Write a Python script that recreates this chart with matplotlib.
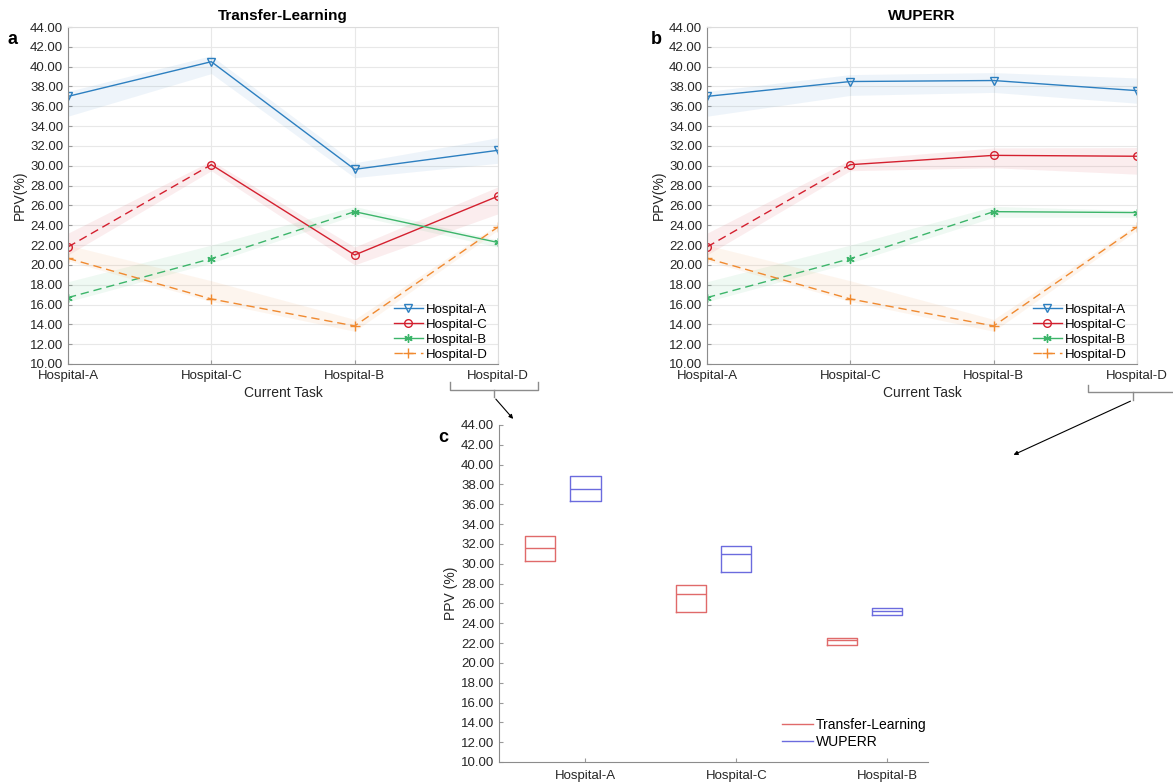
import matplotlib
matplotlib.use("Agg")
import matplotlib.pyplot as plt
from matplotlib.lines import Line2D
from matplotlib.patches import FancyArrowPatch

plt.rcParams["font.family"] = ["Liberation Sans", "DejaVu Sans"]
plt.rcParams["font.size"] = 9

# tasks in training order
tasks = ["Hospital-A", "Hospital-C", "Hospital-B", "Hospital-D"]
hospitals = ["Hospital-A", "Hospital-C", "Hospital-B", "Hospital-D"]

# Transfer-Learning: PPV of each hospital after each task (mean, band low, band high)
tl_mean = {
    "Hospital-A": [37.0, 40.5, 29.64, 31.56],
    "Hospital-C": [21.81, 30.11, 21.0, 26.93],
    "Hospital-B": [16.7, 20.63, 25.37, 22.26],
    "Hospital-D": [20.66, 16.56, 13.84, 23.82],
}
tl_low = {
    "Hospital-A": [35.0, 39.3, 28.8, 30.25],
    "Hospital-C": [21.0, 29.5, 20.0, 25.15],
    "Hospital-B": [16.3, 20.2, 25.0, 21.79],
    "Hospital-D": [20.4, 16.3, 13.3, 23.5],
}
tl_high = {
    "Hospital-A": [37.5, 41.1, 30.3, 32.83],
    "Hospital-C": [23.2, 30.5, 21.8, 27.87],
    "Hospital-B": [18.3, 22.0, 25.9, 22.5],
    "Hospital-D": [22.0, 18.4, 14.5, 24.1],
}

# WUPERR
wu_mean = {
    "Hospital-A": [37.0, 38.5, 38.6, 37.58],
    "Hospital-C": [21.81, 30.11, 31.05, 30.96],
    "Hospital-B": [16.7, 20.63, 25.37, 25.28],
    "Hospital-D": [20.66, 16.56, 13.84, 23.82],
}
wu_low = {
    "Hospital-A": [35.0, 37.1, 37.4, 36.31],
    "Hospital-C": [21.0, 29.5, 29.8, 29.15],
    "Hospital-B": [16.3, 20.2, 24.8, 24.81],
    "Hospital-D": [20.4, 16.3, 13.3, 23.5],
}
wu_high = {
    "Hospital-A": [37.5, 39.2, 39.4, 38.86],
    "Hospital-C": [23.2, 30.6, 31.8, 31.84],
    "Hospital-B": [18.3, 22.0, 25.9, 25.49],
    "Hospital-D": [22.0, 18.4, 14.5, 24.1],
}

# final-task box stats (q1, median, q3)
box_groups = ["Hospital-A", "Hospital-C", "Hospital-B"]
tl_q1 = [30.25, 25.15, 21.79]
tl_med = [31.56, 26.93, 22.26]
tl_q3 = [32.83, 27.87, 22.5]
wu_q1 = [36.31, 29.15, 24.81]
wu_med = [37.58, 30.96, 25.28]
wu_q3 = [38.86, 31.84, 25.49]

colors = {
    "Hospital-A": "#2c7fc0",
    "Hospital-C": "#d4202f",
    "Hospital-B": "#3cb56a",
    "Hospital-D": "#f08a30",
}
markers = {
    "Hospital-A": dict(marker="v", ms=5.5, mfc="none"),
    "Hospital-C": dict(marker="o", ms=5.5, mfc="none"),
    "Hospital-B": dict(marker=(6, 2, 0), ms=6),
    "Hospital-D": dict(marker="+", ms=7),
}
DASH = (6, 3.5)
W, H = 1173, 784


def axes_px(fig, x0, x1, y0, y1):
    return fig.add_axes([x0 / W, 1 - y1 / H, (x1 - x0) / W, (y1 - y0) / H])


def style_axis(ax):
    ax.set_ylim(10, 44)
    ax.set_yticks(range(10, 45, 2))
    ax.set_yticklabels([f"{v:.2f}" for v in range(10, 45, 2)])
    ax.tick_params(direction="in", length=3, colors="#9a9a9a", labelcolor="#262626", labelsize=9.5)


def draw_curves(ax, title, mean, low, high):
    x = list(range(len(tasks)))
    handles = []
    for k, h in enumerate(hospitals):
        c = colors[h]
        ax.fill_between(x, low[h], high[h], color=c, alpha=0.08, lw=0)
        if k > 0:
            ax.plot(x[:k + 1], mean[h][:k + 1], color=c, lw=1, dashes=DASH)
        ax.plot(x[k:], mean[h][k:], color=c, lw=1)
        ax.plot(x, mean[h], ls="none", color=c, mew=1, **markers[h])
        ls_kw = dict(dashes=DASH) if k == len(hospitals) - 1 else {}
        handles.append(Line2D([], [], color=c, lw=1, mew=1, label=h, **markers[h], **ls_kw))

    ax.set_xlim(0, 3)
    ax.set_xticks(x)
    ax.set_xticklabels(tasks, fontsize=9)
    style_axis(ax)
    ax.grid(True, color="#e8e8e8", lw=0.8)
    ax.set_axisbelow(True)
    for s in ["top", "right"]:
        ax.spines[s].set_color("#dcdcdc")
    for s in ["left", "bottom"]:
        ax.spines[s].set_color("#8c8c8c")
    ax.tick_params(axis="x", pad=4)
    ax.set_xlabel("Current Task", fontsize=10, color="#262626", labelpad=3)
    ax.set_ylabel("PPV(%)", fontsize=10, color="#262626", labelpad=2)
    ax.set_title(title, fontsize=11, fontweight="bold", pad=5)
    ax.legend(handles=handles, loc="lower right", bbox_to_anchor=(0.984, 0.0),
              frameon=False, fontsize=9.5, handlelength=2.2, handletextpad=0.25,
              labelspacing=0.2, borderaxespad=0, borderpad=0.25)


fig = plt.figure(figsize=(W / 100, H / 100), dpi=100)

ax_a = axes_px(fig, 68, 498, 27, 364)
draw_curves(ax_a, "Transfer-Learning", tl_mean, tl_low, tl_high)
ax_b = axes_px(fig, 707, 1137, 27, 364)
draw_curves(ax_b, "WUPERR", wu_mean, wu_low, wu_high)

# panel c: box per method at the final task
ax_c = axes_px(fig, 499, 928, 425, 762)
pos = [1, 2, 3]
tl_stats = [dict(med=m, q1=a, q3=b, whislo=a, whishi=b) for a, m, b in zip(tl_q1, tl_med, tl_q3)]
wu_stats = [dict(med=m, q1=a, q3=b, whislo=a, whishi=b) for a, m, b in zip(wu_q1, wu_med, wu_q3)]
red, blue = "#e06a6a", "#6b6bde"
for stats, p, c in [(tl_stats, [v - 0.3 for v in pos], red), (wu_stats, pos, blue)]:
    ax_c.bxp(stats, positions=p, widths=0.2, showcaps=False, showfliers=False,
             boxprops=dict(color=c, lw=1), medianprops=dict(color=c, lw=1),
             whiskerprops=dict(color=c, lw=1), manage_ticks=False)
ax_c.set_xlim(0.427, 3.27)
ax_c.set_xticks(pos)
ax_c.set_xticklabels(box_groups, fontsize=9)
style_axis(ax_c)
for s in ["top", "right"]:
    ax_c.spines[s].set_visible(False)
for s in ["left", "bottom"]:
    ax_c.spines[s].set_color("#8c8c8c")
ax_c.tick_params(axis="x", pad=6)
ax_c.set_ylabel("PPV (%)", fontsize=10, color="#262626", labelpad=2)
ax_c.legend(handles=[Line2D([], [], color=red, lw=1, label="Transfer-Learning"),
                     Line2D([], [], color=blue, lw=1, label="WUPERR")],
            loc="lower right", bbox_to_anchor=(1.0, 0.035), frameon=False,
            fontsize=10, handlelength=2.2, handletextpad=0.25, labelspacing=0.2,
            borderaxespad=0, borderpad=0.1)


def fpx(x, y):
    return (x / W, 1 - y / H)


# panel letters
for letter, (x, y) in zip("abc", [(13, 40), (656, 40), (443, 437)]):
    fig.text(*fpx(x, y), letter, fontsize=13, fontweight="bold", ha="center", va="center")

# brackets under the last task with arrows pointing to panel c
bracket_kw = dict(color="#8c8c8c", lw=1, transform=fig.transFigure, clip_on=False)
for x0, x1, xm, ytop, ybar, ynub, tip in [
    (450, 538, 494, 382, 390, 397, (515, 421)),
    (1088, 1185, 1133, 385, 392, 400, (1011, 456)),
]:
    xs = [x0, x0, x1, x1]
    ys = [ytop, ybar, ybar, ytop]
    fig.add_artist(Line2D([v / W for v in xs], [1 - v / H for v in ys], **bracket_kw))
    fig.add_artist(Line2D([xm / W, xm / W], [1 - ybar / H, 1 - ynub / H], **bracket_kw))
    fig.add_artist(FancyArrowPatch(fpx(xm, ynub), fpx(*tip), transform=fig.transFigure,
                                   arrowstyle="-|>", mutation_scale=6, lw=0.8, color="black"))

fig.savefig("out.png", dpi=100)
